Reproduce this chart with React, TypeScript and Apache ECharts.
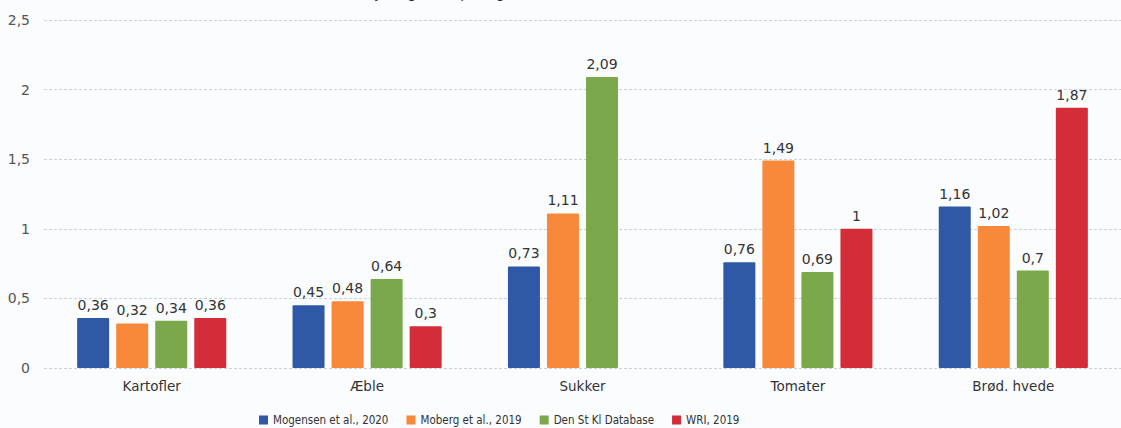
import React, { useEffect, useRef } from "react";
import * as echarts from "echarts";

const categories = ["Kartofler", "Æble", "Sukker", "Tomater", "Brød. hvede"];
const seriesNames = ["Mogensen et al., 2020", "Moberg et al., 2019", "Den St Kl Database", "WRI, 2019"];
const mogensen = [0.36, 0.45, 0.73, 0.76, 1.16];
const moberg = [0.32, 0.48, 1.11, 1.49, 1.02];
const denStKl = [0.34, 0.64, 2.09, 0.69, 0.7];
const wri: (number | null)[] = [0.36, 0.3, null, 1, 1.87];
const yTicks = [0, 0.5, 1, 1.5, 2, 2.5];
const titleText = "Klimaaftryk, kg CO₂e per kg";

const colors = ["#2f58a7", "#f8893a", "#7ba84b", "#d32d39"];
const FONT = "'DejaVu Sans', sans-serif";
const LEGEND_FONT = "'DejaVu Sans Condensed', 'DejaVu Sans', sans-serif";

const fmt = (v: number) => String(v).replace(".", ",");

export default function App() {
  const ref = useRef<HTMLDivElement>(null);
  useEffect(() => {
    document.body.style.margin = "0";
    const chart = echarts.init(ref.current!, null, { renderer: "svg" });
    const data = [mogensen, moberg, denStKl, wri];
    chart.setOption({
      animation: false,
      backgroundColor: "#fafcfe",
      textStyle: { fontFamily: FONT },
      graphic: [
        {
          type: "text",
          right: 1121 - 505,
          top: -14,
          style: { text: titleText, fontSize: 14, fill: "#333", fontFamily: FONT },
        },
      ],
      legend: {
        left: 254,
        top: 409,
        icon: "rect",
        itemWidth: 9,
        itemHeight: 9,
        itemGap: 18,
        textStyle: { fontSize: 11.5, color: "#333", fontFamily: LEGEND_FONT },
        data: seriesNames,
      },
      grid: { left: 44, top: 20, width: 1085, height: 348, containLabel: false },
      xAxis: {
        type: "category",
        data: categories,
        axisLine: { show: false },
        axisTick: { show: false },
        axisLabel: { fontSize: 13.5, color: "#333", margin: 11, fontFamily: FONT },
      },
      yAxis: {
        type: "value",
        min: yTicks[0],
        max: yTicks[yTicks.length - 1],
        interval: 0.5,
        axisLine: { show: false },
        axisTick: { show: false },
        axisLabel: {
          fontSize: 14,
          color: "#555",
          margin: 14,
          fontFamily: FONT,
          formatter: (v: number) => fmt(v),
        },
        splitLine: { lineStyle: { color: "#c9d0e0", type: [3, 2], width: 1 } },
      },
      series: seriesNames.map((name, i) => ({
        name,
        type: "bar",
        data: data[i],
        barWidth: 32,
        barGap: "22%",
        itemStyle: { color: colors[i], borderRadius: 1 },
        label: {
          show: true,
          position: "top",
          distance: 6,
          fontSize: 14,
          color: "#333",
          fontFamily: FONT,
          formatter: (p: any) => fmt(p.value),
        },
      })),
    });
    return () => chart.dispose();
  }, []);
  return <div ref={ref} style={{ width: 1121, height: 428 }} />;
}
